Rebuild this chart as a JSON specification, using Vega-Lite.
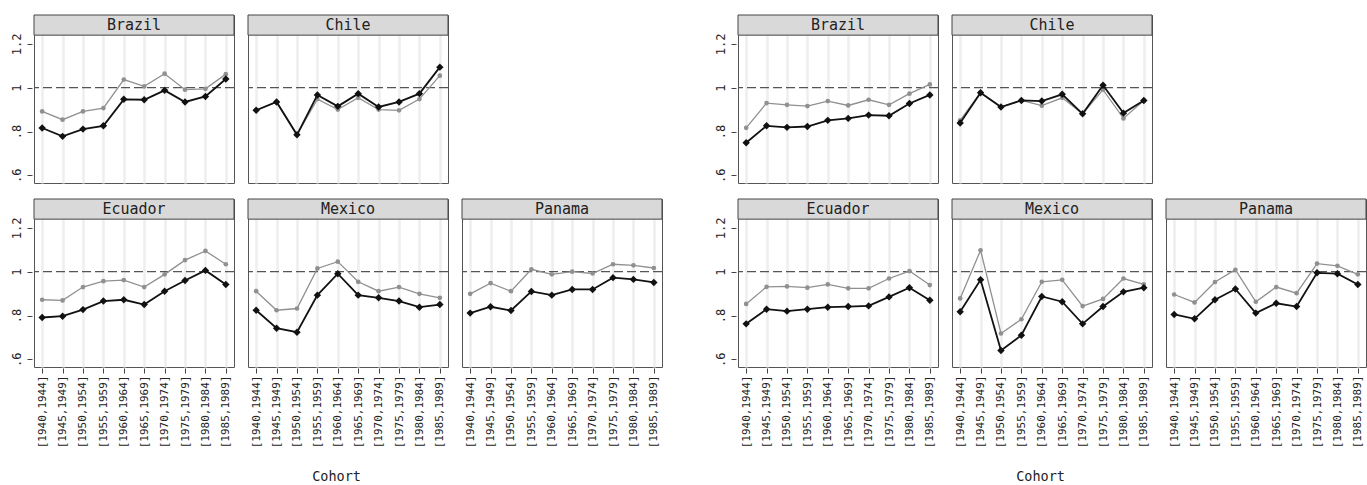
{
  "$schema": "https://vega.github.io/schema/vega-lite/v6.json",
  "padding": {"left": 10, "top": 14, "right": 0, "bottom": 0},
  "background": "white",
  "config": {
    "font": "DejaVu Sans Mono",
    "view": {"stroke": "#555", "strokeWidth": 1},
    "axis": {"labelColor": "#222", "tickColor": "#444"}
  },
  "data": {"values": [
    {"m":"A","country":"Brazil","cohort":"[1940,1944]","b":0.816,"g":0.892},
    {"m":"A","country":"Brazil","cohort":"[1945,1949]","b":0.778,"g":0.854},
    {"m":"A","country":"Brazil","cohort":"[1950,1954]","b":0.811,"g":0.892},
    {"m":"A","country":"Brazil","cohort":"[1955,1959]","b":0.826,"g":0.907},
    {"m":"A","country":"Brazil","cohort":"[1960,1964]","b":0.947,"g":1.037},
    {"m":"A","country":"Brazil","cohort":"[1965,1969]","b":0.945,"g":1.006},
    {"m":"A","country":"Brazil","cohort":"[1970,1974]","b":0.988,"g":1.064},
    {"m":"A","country":"Brazil","cohort":"[1975,1979]","b":0.935,"g":0.991},
    {"m":"A","country":"Brazil","cohort":"[1980,1984]","b":0.960,"g":0.995},
    {"m":"A","country":"Brazil","cohort":"[1985,1989]","b":1.040,"g":1.062},
    {"m":"A","country":"Chile","cohort":"[1940,1944]","b":0.897,"g":0.897},
    {"m":"A","country":"Chile","cohort":"[1945,1949]","b":0.935,"g":0.935},
    {"m":"A","country":"Chile","cohort":"[1950,1954]","b":0.785,"g":0.785},
    {"m":"A","country":"Chile","cohort":"[1955,1959]","b":0.967,"g":0.948},
    {"m":"A","country":"Chile","cohort":"[1960,1964]","b":0.915,"g":0.900},
    {"m":"A","country":"Chile","cohort":"[1965,1969]","b":0.973,"g":0.954},
    {"m":"A","country":"Chile","cohort":"[1970,1974]","b":0.912,"g":0.900},
    {"m":"A","country":"Chile","cohort":"[1975,1979]","b":0.935,"g":0.897},
    {"m":"A","country":"Chile","cohort":"[1980,1984]","b":0.973,"g":0.948},
    {"m":"A","country":"Chile","cohort":"[1985,1989]","b":1.094,"g":1.055},
    {"m":"A","country":"Ecuador","cohort":"[1940,1944]","b":0.791,"g":0.872},
    {"m":"A","country":"Ecuador","cohort":"[1945,1949]","b":0.797,"g":0.869},
    {"m":"A","country":"Ecuador","cohort":"[1950,1954]","b":0.827,"g":0.930},
    {"m":"A","country":"Ecuador","cohort":"[1955,1959]","b":0.866,"g":0.957},
    {"m":"A","country":"Ecuador","cohort":"[1960,1964]","b":0.872,"g":0.962},
    {"m":"A","country":"Ecuador","cohort":"[1965,1969]","b":0.850,"g":0.930},
    {"m":"A","country":"Ecuador","cohort":"[1970,1974]","b":0.911,"g":0.988},
    {"m":"A","country":"Ecuador","cohort":"[1975,1979]","b":0.960,"g":1.053},
    {"m":"A","country":"Ecuador","cohort":"[1980,1984]","b":1.006,"g":1.095},
    {"m":"A","country":"Ecuador","cohort":"[1985,1989]","b":0.942,"g":1.034},
    {"m":"A","country":"Mexico","cohort":"[1940,1944]","b":0.824,"g":0.911},
    {"m":"A","country":"Mexico","cohort":"[1945,1949]","b":0.742,"g":0.824},
    {"m":"A","country":"Mexico","cohort":"[1950,1954]","b":0.724,"g":0.832},
    {"m":"A","country":"Mexico","cohort":"[1955,1959]","b":0.893,"g":1.015},
    {"m":"A","country":"Mexico","cohort":"[1960,1964]","b":0.991,"g":1.046},
    {"m":"A","country":"Mexico","cohort":"[1965,1969]","b":0.893,"g":0.954},
    {"m":"A","country":"Mexico","cohort":"[1970,1974]","b":0.881,"g":0.911},
    {"m":"A","country":"Mexico","cohort":"[1975,1979]","b":0.866,"g":0.930},
    {"m":"A","country":"Mexico","cohort":"[1980,1984]","b":0.838,"g":0.899},
    {"m":"A","country":"Mexico","cohort":"[1985,1989]","b":0.850,"g":0.881},
    {"m":"A","country":"Panama","cohort":"[1940,1944]","b":0.811,"g":0.899},
    {"m":"A","country":"Panama","cohort":"[1945,1949]","b":0.840,"g":0.948},
    {"m":"A","country":"Panama","cohort":"[1950,1954]","b":0.823,"g":0.911},
    {"m":"A","country":"Panama","cohort":"[1955,1959]","b":0.910,"g":1.011},
    {"m":"A","country":"Panama","cohort":"[1960,1964]","b":0.893,"g":0.988},
    {"m":"A","country":"Panama","cohort":"[1965,1969]","b":0.919,"g":1.000},
    {"m":"A","country":"Panama","cohort":"[1970,1974]","b":0.919,"g":0.992},
    {"m":"A","country":"Panama","cohort":"[1975,1979]","b":0.973,"g":1.034},
    {"m":"A","country":"Panama","cohort":"[1980,1984]","b":0.965,"g":1.029},
    {"m":"A","country":"Panama","cohort":"[1985,1989]","b":0.951,"g":1.017},
    {"m":"B","country":"Brazil","cohort":"[1940,1944]","b":0.749,"g":0.817},
    {"m":"B","country":"Brazil","cohort":"[1945,1949]","b":0.826,"g":0.930},
    {"m":"B","country":"Brazil","cohort":"[1950,1954]","b":0.819,"g":0.922},
    {"m":"B","country":"Brazil","cohort":"[1955,1959]","b":0.823,"g":0.916},
    {"m":"B","country":"Brazil","cohort":"[1960,1964]","b":0.851,"g":0.939},
    {"m":"B","country":"Brazil","cohort":"[1965,1969]","b":0.860,"g":0.919},
    {"m":"B","country":"Brazil","cohort":"[1970,1974]","b":0.875,"g":0.945},
    {"m":"B","country":"Brazil","cohort":"[1975,1979]","b":0.872,"g":0.922},
    {"m":"B","country":"Brazil","cohort":"[1980,1984]","b":0.928,"g":0.973},
    {"m":"B","country":"Brazil","cohort":"[1985,1989]","b":0.967,"g":1.015},
    {"m":"B","country":"Chile","cohort":"[1940,1944]","b":0.839,"g":0.851},
    {"m":"B","country":"Chile","cohort":"[1945,1949]","b":0.977,"g":0.977},
    {"m":"B","country":"Chile","cohort":"[1950,1954]","b":0.912,"g":0.912},
    {"m":"B","country":"Chile","cohort":"[1955,1959]","b":0.942,"g":0.942},
    {"m":"B","country":"Chile","cohort":"[1960,1964]","b":0.939,"g":0.918},
    {"m":"B","country":"Chile","cohort":"[1965,1969]","b":0.970,"g":0.954},
    {"m":"B","country":"Chile","cohort":"[1970,1974]","b":0.881,"g":0.881},
    {"m":"B","country":"Chile","cohort":"[1975,1979]","b":1.011,"g":0.991},
    {"m":"B","country":"Chile","cohort":"[1980,1984]","b":0.884,"g":0.860},
    {"m":"B","country":"Chile","cohort":"[1985,1989]","b":0.942,"g":0.942},
    {"m":"B","country":"Ecuador","cohort":"[1940,1944]","b":0.762,"g":0.853},
    {"m":"B","country":"Ecuador","cohort":"[1945,1949]","b":0.829,"g":0.931},
    {"m":"B","country":"Ecuador","cohort":"[1950,1954]","b":0.820,"g":0.933},
    {"m":"B","country":"Ecuador","cohort":"[1955,1959]","b":0.829,"g":0.927},
    {"m":"B","country":"Ecuador","cohort":"[1960,1964]","b":0.838,"g":0.942},
    {"m":"B","country":"Ecuador","cohort":"[1965,1969]","b":0.841,"g":0.924},
    {"m":"B","country":"Ecuador","cohort":"[1970,1974]","b":0.844,"g":0.924},
    {"m":"B","country":"Ecuador","cohort":"[1975,1979]","b":0.885,"g":0.969},
    {"m":"B","country":"Ecuador","cohort":"[1980,1984]","b":0.927,"g":1.003},
    {"m":"B","country":"Ecuador","cohort":"[1985,1989]","b":0.870,"g":0.939},
    {"m":"B","country":"Mexico","cohort":"[1940,1944]","b":0.817,"g":0.878},
    {"m":"B","country":"Mexico","cohort":"[1945,1949]","b":0.963,"g":1.098},
    {"m":"B","country":"Mexico","cohort":"[1950,1954]","b":0.640,"g":0.718},
    {"m":"B","country":"Mexico","cohort":"[1955,1959]","b":0.710,"g":0.783},
    {"m":"B","country":"Mexico","cohort":"[1960,1964]","b":0.887,"g":0.954},
    {"m":"B","country":"Mexico","cohort":"[1965,1969]","b":0.863,"g":0.963},
    {"m":"B","country":"Mexico","cohort":"[1970,1974]","b":0.762,"g":0.843},
    {"m":"B","country":"Mexico","cohort":"[1975,1979]","b":0.841,"g":0.876},
    {"m":"B","country":"Mexico","cohort":"[1980,1984]","b":0.908,"g":0.969},
    {"m":"B","country":"Mexico","cohort":"[1985,1989]","b":0.927,"g":0.942},
    {"m":"B","country":"Panama","cohort":"[1940,1944]","b":0.805,"g":0.896},
    {"m":"B","country":"Panama","cohort":"[1945,1949]","b":0.785,"g":0.860},
    {"m":"B","country":"Panama","cohort":"[1950,1954]","b":0.872,"g":0.953},
    {"m":"B","country":"Panama","cohort":"[1955,1959]","b":0.921,"g":1.009},
    {"m":"B","country":"Panama","cohort":"[1960,1964]","b":0.811,"g":0.863},
    {"m":"B","country":"Panama","cohort":"[1965,1969]","b":0.856,"g":0.930},
    {"m":"B","country":"Panama","cohort":"[1970,1974]","b":0.841,"g":0.902},
    {"m":"B","country":"Panama","cohort":"[1975,1979]","b":0.995,"g":1.037},
    {"m":"B","country":"Panama","cohort":"[1980,1984]","b":0.991,"g":1.027},
    {"m":"B","country":"Panama","cohort":"[1985,1989]","b":0.942,"g":0.988}
  ]},
  "hconcat": [
    {
      "vconcat": [
        {
          "transform": [{"filter": "datum.m == 'A' && (datum.country == 'Brazil' || datum.country == 'Chile')"}],
          "facet": {"column": {"field": "country", "type": "nominal", "header": {"labels": false, "title": null}}},
          "spacing": 10,
          "spec": {
            "width": 200, "height": 168,
            "layer": [
              {"transform": [{"filter": "datum.cohort == '[1940,1944]'"}], "mark": {"type": "rect", "fill": "#d9d9d9", "stroke": "#444", "strokeWidth": 1}, "encoding": {"y": {"datum": 1.24, "type": "quantitative", "title": null}, "y2": {"datum": 1.332}}},
              {"transform": [{"filter": "datum.cohort == '[1940,1944]'"}], "mark": {"type": "text", "fontSize": 15, "color": "#222", "baseline": "middle"}, "encoding": {"text": {"field": "country"}, "y": {"datum": 1.286, "type": "quantitative", "title": null}}},
              {"transform": [{"filter": "datum.cohort == '[1940,1944]'"}], "mark": {"type": "rule", "strokeDash": [9, 4], "color": "#555", "strokeWidth": 1.2}, "encoding": {"y": {"datum": 1, "type": "quantitative", "title": null}}},
              {"mark": {"type": "line", "color": "#909090", "strokeWidth": 1.3, "point": {"filled": true, "shape": "circle", "size": 22, "color": "#909090"}},
               "encoding": {
                 "x": {"field": "cohort", "type": "ordinal", "scale": {"type": "point", "padding": 0.4}, "axis": {"labels": false, "ticks": false, "domain": false, "grid": true, "gridColor": "#eeeeee", "gridWidth": 2.5, "title": null}},
                 "y": {"field": "g", "type": "quantitative", "title": null, "scale": {"domain": [0.565, 1.332], "nice": false, "zero": false}, "axis": {"values": [0.6, 0.8, 1, 1.2], "labelExpr": "datum.value < 1 ? substring(format(datum.value, '.1f'), 1) : format(datum.value, '~g')", "labelAngle": -90, "labelFontSize": 12, "labelPadding": 4, "domain": false, "grid": false, "tickSize": 5, "title": null}}}},
              {"mark": {"type": "line", "color": "#111", "strokeWidth": 1.8, "point": {"filled": true, "shape": "diamond", "size": 55, "color": "#111"}},
               "encoding": {
                 "x": {"field": "cohort", "type": "ordinal"},
                 "y": {"field": "b", "type": "quantitative", "title": null}}}
            ]
          }
        },
        {
          "transform": [{"filter": "datum.m == 'A' && (datum.country == 'Ecuador' || datum.country == 'Mexico' || datum.country == 'Panama')"}],
          "facet": {"column": {"field": "country", "type": "nominal", "header": {"labels": false, "title": null}}},
          "spacing": 10,
          "title": {"text": "Cohort", "orient": "bottom", "anchor": "middle", "frame": "bounds", "fontSize": 13.5, "fontWeight": "normal", "color": "#222", "offset": 22},
          "spec": {
            "width": 200, "height": 168,
            "layer": [
              {"transform": [{"filter": "datum.cohort == '[1940,1944]'"}], "mark": {"type": "rect", "fill": "#d9d9d9", "stroke": "#444", "strokeWidth": 1}, "encoding": {"y": {"datum": 1.24, "type": "quantitative", "title": null}, "y2": {"datum": 1.332}}},
              {"transform": [{"filter": "datum.cohort == '[1940,1944]'"}], "mark": {"type": "text", "fontSize": 15, "color": "#222", "baseline": "middle"}, "encoding": {"text": {"field": "country"}, "y": {"datum": 1.286, "type": "quantitative", "title": null}}},
              {"transform": [{"filter": "datum.cohort == '[1940,1944]'"}], "mark": {"type": "rule", "strokeDash": [9, 4], "color": "#555", "strokeWidth": 1.2}, "encoding": {"y": {"datum": 1, "type": "quantitative", "title": null}}},
              {"mark": {"type": "line", "color": "#909090", "strokeWidth": 1.3, "point": {"filled": true, "shape": "circle", "size": 22, "color": "#909090"}},
               "encoding": {
                 "x": {"field": "cohort", "type": "ordinal", "scale": {"type": "point", "padding": 0.4}, "axis": {"labelAngle": -90, "labelFontSize": 11, "labelPadding": 2, "domain": false, "grid": true, "gridColor": "#eeeeee", "gridWidth": 2.5, "tickSize": 5, "title": null}},
                 "y": {"field": "g", "type": "quantitative", "title": null, "scale": {"domain": [0.565, 1.332], "nice": false, "zero": false}, "axis": {"values": [0.6, 0.8, 1, 1.2], "labelExpr": "datum.value < 1 ? substring(format(datum.value, '.1f'), 1) : format(datum.value, '~g')", "labelAngle": -90, "labelFontSize": 12, "labelPadding": 4, "domain": false, "grid": false, "tickSize": 5, "title": null}}}},
              {"mark": {"type": "line", "color": "#111", "strokeWidth": 1.8, "point": {"filled": true, "shape": "diamond", "size": 55, "color": "#111"}},
               "encoding": {
                 "x": {"field": "cohort", "type": "ordinal"},
                 "y": {"field": "b", "type": "quantitative", "title": null}}}
            ]
          }
        }
      ],
      "spacing": 14
    },
    {
      "vconcat": [
        {
          "transform": [{"filter": "datum.m == 'B' && (datum.country == 'Brazil' || datum.country == 'Chile')"}],
          "facet": {"column": {"field": "country", "type": "nominal", "header": {"labels": false, "title": null}}},
          "spacing": 10,
          "spec": {
            "width": 200, "height": 168,
            "layer": [
              {"transform": [{"filter": "datum.cohort == '[1940,1944]'"}], "mark": {"type": "rect", "fill": "#d9d9d9", "stroke": "#444", "strokeWidth": 1}, "encoding": {"y": {"datum": 1.24, "type": "quantitative", "title": null}, "y2": {"datum": 1.332}}},
              {"transform": [{"filter": "datum.cohort == '[1940,1944]'"}], "mark": {"type": "text", "fontSize": 15, "color": "#222", "baseline": "middle"}, "encoding": {"text": {"field": "country"}, "y": {"datum": 1.286, "type": "quantitative", "title": null}}},
              {"transform": [{"filter": "datum.cohort == '[1940,1944]'"}], "mark": {"type": "rule", "strokeDash": [9, 4], "color": "#555", "strokeWidth": 1.2}, "encoding": {"y": {"datum": 1, "type": "quantitative", "title": null}}},
              {"mark": {"type": "line", "color": "#909090", "strokeWidth": 1.3, "point": {"filled": true, "shape": "circle", "size": 22, "color": "#909090"}},
               "encoding": {
                 "x": {"field": "cohort", "type": "ordinal", "scale": {"type": "point", "padding": 0.4}, "axis": {"labels": false, "ticks": false, "domain": false, "grid": true, "gridColor": "#eeeeee", "gridWidth": 2.5, "title": null}},
                 "y": {"field": "g", "type": "quantitative", "title": null, "scale": {"domain": [0.565, 1.332], "nice": false, "zero": false}, "axis": {"values": [0.6, 0.8, 1, 1.2], "labelExpr": "datum.value < 1 ? substring(format(datum.value, '.1f'), 1) : format(datum.value, '~g')", "labelAngle": -90, "labelFontSize": 12, "labelPadding": 4, "domain": false, "grid": false, "tickSize": 5, "title": null}}}},
              {"mark": {"type": "line", "color": "#111", "strokeWidth": 1.8, "point": {"filled": true, "shape": "diamond", "size": 55, "color": "#111"}},
               "encoding": {
                 "x": {"field": "cohort", "type": "ordinal"},
                 "y": {"field": "b", "type": "quantitative", "title": null}}}
            ]
          }
        },
        {
          "transform": [{"filter": "datum.m == 'B' && (datum.country == 'Ecuador' || datum.country == 'Mexico' || datum.country == 'Panama')"}],
          "facet": {"column": {"field": "country", "type": "nominal", "header": {"labels": false, "title": null}}},
          "spacing": 10,
          "title": {"text": "Cohort", "orient": "bottom", "anchor": "middle", "frame": "bounds", "fontSize": 13.5, "fontWeight": "normal", "color": "#222", "offset": 22},
          "spec": {
            "width": 200, "height": 168,
            "layer": [
              {"transform": [{"filter": "datum.cohort == '[1940,1944]'"}], "mark": {"type": "rect", "fill": "#d9d9d9", "stroke": "#444", "strokeWidth": 1}, "encoding": {"y": {"datum": 1.24, "type": "quantitative", "title": null}, "y2": {"datum": 1.332}}},
              {"transform": [{"filter": "datum.cohort == '[1940,1944]'"}], "mark": {"type": "text", "fontSize": 15, "color": "#222", "baseline": "middle"}, "encoding": {"text": {"field": "country"}, "y": {"datum": 1.286, "type": "quantitative", "title": null}}},
              {"transform": [{"filter": "datum.cohort == '[1940,1944]'"}], "mark": {"type": "rule", "strokeDash": [9, 4], "color": "#555", "strokeWidth": 1.2}, "encoding": {"y": {"datum": 1, "type": "quantitative", "title": null}}},
              {"mark": {"type": "line", "color": "#909090", "strokeWidth": 1.3, "point": {"filled": true, "shape": "circle", "size": 22, "color": "#909090"}},
               "encoding": {
                 "x": {"field": "cohort", "type": "ordinal", "scale": {"type": "point", "padding": 0.4}, "axis": {"labelAngle": -90, "labelFontSize": 11, "labelPadding": 2, "domain": false, "grid": true, "gridColor": "#eeeeee", "gridWidth": 2.5, "tickSize": 5, "title": null}},
                 "y": {"field": "g", "type": "quantitative", "title": null, "scale": {"domain": [0.565, 1.332], "nice": false, "zero": false}, "axis": {"values": [0.6, 0.8, 1, 1.2], "labelExpr": "datum.value < 1 ? substring(format(datum.value, '.1f'), 1) : format(datum.value, '~g')", "labelAngle": -90, "labelFontSize": 12, "labelPadding": 4, "domain": false, "grid": false, "tickSize": 5, "title": null}}}},
              {"mark": {"type": "line", "color": "#111", "strokeWidth": 1.8, "point": {"filled": true, "shape": "diamond", "size": 55, "color": "#111"}},
               "encoding": {
                 "x": {"field": "cohort", "type": "ordinal"},
                 "y": {"field": "b", "type": "quantitative", "title": null}}}
            ]
          }
        }
      ],
      "spacing": 14
    }
  ],
  "spacing": 50
}
